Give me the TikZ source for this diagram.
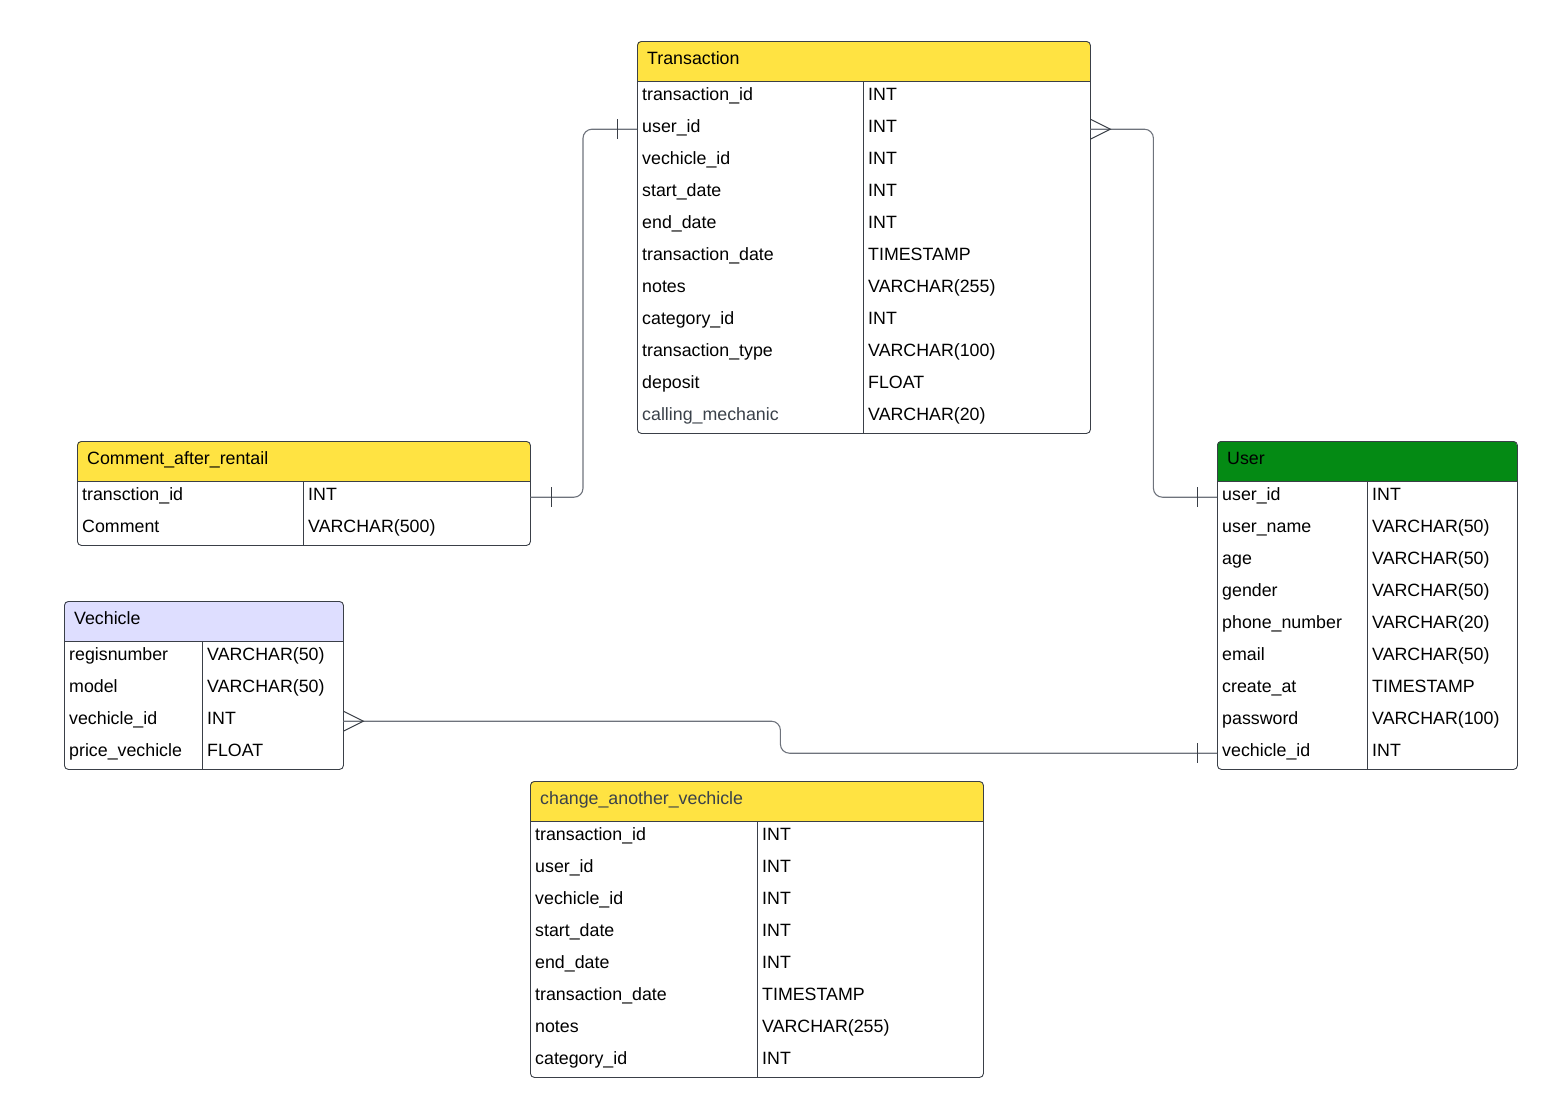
\documentclass[tikz,border=0pt]{standalone}
\usepackage{fontspec}
\setmainfont{Liberation Sans}
\usetikzlibrary{calc}
\definecolor{hdryellow}{HTML}{FFE342}
\definecolor{hdrgreen}{HTML}{048A14}
\definecolor{hdrlav}{HTML}{DEDEFF}
\definecolor{bordergray}{HTML}{3A3F47}
\definecolor{conngray}{HTML}{6E737C}
\definecolor{tickdark}{HTML}{3A3F47}
\definecolor{txtgray}{HTML}{3A414A}
\tikzset{
  tbltext/.style={anchor=base west, inner sep=0pt, font=\fontsize{17.8}{21}\selectfont},
  tblframe/.style={draw=bordergray, line width=0.9pt, rounded corners=4pt, anchor=north west, inner sep=0pt},
  rowbox/.style={anchor=north west, inner sep=0pt, minimum height=32pt},
  tblline/.style={draw=bordergray, line width=0.9pt},
  conn/.style={draw=conngray, line width=1.1pt, rounded corners=9pt},
  endmark/.style={draw=tickdark, line width=1pt}
}
% #1 name, #2 left, #3 top, #4 right, #5 divider, #6 nrows, #7 fill, #8 title, #9 rows
\newcommand\ertable[9]{%
  \pgfmathsetmacro\tblbot{#3+40+32*#6}%
  \begin{scope}
    \clip[rounded corners=4pt] (#2,#3) rectangle (#4,\tblbot);
    \fill[#7] (#2,#3) rectangle (#4,#3+40);
  \end{scope}
  \node[tblframe, minimum width=#4-#2, minimum height=\tblbot-#3] (#1) at (#2,#3) {};
  \draw[tblline] (#2,#3+40) -- (#4,#3+40);
  \draw[tblline] (#5,#3+40) -- (#5,\tblbot);
  \node[tbltext] (#1-h) at (#2+10,#3+23.5) {#8};
  \foreach \ca/\cb [count=\i] in {#9} {
    \pgfmathsetmacro\rt{#3+40+32*(\i-1)}
    \node[rowbox, minimum width=#4-#2] (#1-r\i) at (#2,\rt) {};
    \node[tbltext] (#1-r\i-a) at (#2+5,\rt+19.3) {\ca};
    \node[tbltext] (#1-r\i-b) at (#5+5,\rt+19.3) {\cb};
  }
}
\newcommand\callmech{\textcolor{txtgray}{calling\_mechanic}}
\begin{document}
\begin{tikzpicture}[x=1pt,y=-1pt]
\useasboundingbox (0,0) rectangle (1558,1117);

\ertable{tr}{637}{41}{1090}{863}{11}{hdryellow}{Transaction}{transaction\_id/INT, user\_id/INT, vechicle\_id/INT, start\_date/INT, end\_date/INT, transaction\_date/TIMESTAMP, notes/VARCHAR(255), category\_id/INT, transaction\_type/VARCHAR(100), deposit/FLOAT, \callmech/VARCHAR(20)}

\ertable{cm}{77}{441}{530}{303}{2}{hdryellow}{Comment\_after\_rentail}{transction\_id/INT, Comment/VARCHAR(500)}

\ertable{us}{1217}{441}{1517}{1367}{9}{hdrgreen}{User}{user\_id/INT, user\_name/VARCHAR(50), age/VARCHAR(50), gender/VARCHAR(50), phone\_number/VARCHAR(20), email/VARCHAR(50), create\_at/TIMESTAMP, password/VARCHAR(100), vechicle\_id/INT}

\ertable{ve}{64}{601}{343}{202}{4}{hdrlav}{Vechicle}{regisnumber/VARCHAR(50), model/VARCHAR(50), vechicle\_id/INT, price\_vechicle/FLOAT}

\ertable{ca}{530}{781}{983}{757}{8}{hdryellow}{\textcolor{txtgray}{change\_another\_vechicle}}{transaction\_id/INT, user\_id/INT, vechicle\_id/INT, start\_date/INT, end\_date/INT, transaction\_date/TIMESTAMP, notes/VARCHAR(255), category\_id/INT}

% Transaction.user_id -- Comment.transction_id
\draw[conn] (tr-r2.west) -- ++(-54,0) |- (cm-r1.east);
\draw[endmark] ($(tr-r2.west)+(-20,-10)$) -- ($(tr-r2.west)+(-20,10)$);
\draw[endmark] ($(cm-r1.east)+(21,-10)$) -- ($(cm-r1.east)+(21,10)$);

% Transaction.user_id -- User.user_id
\draw[conn] (tr-r2.east) -- ++(63,0) |- (us-r1.west);
\draw[endmark] ($(tr-r2.east)+(0,-10)$) -- ($(tr-r2.east)+(20,0)$) -- ($(tr-r2.east)+(0,10)$);
\draw[endmark] ($(us-r1.west)+(-20,-10)$) -- ($(us-r1.west)+(-20,10)$);

% Vechicle.vechicle_id -- User.vechicle_id
\draw[conn] (ve-r3.east) -- ++(437,0) |- (us-r9.west);
\draw[endmark] ($(ve-r3.east)+(0,-10)$) -- ($(ve-r3.east)+(20,0)$) -- ($(ve-r3.east)+(0,10)$);
\draw[endmark] ($(us-r9.west)+(-20,-10)$) -- ($(us-r9.west)+(-20,10)$);
\end{tikzpicture}
\end{document}
